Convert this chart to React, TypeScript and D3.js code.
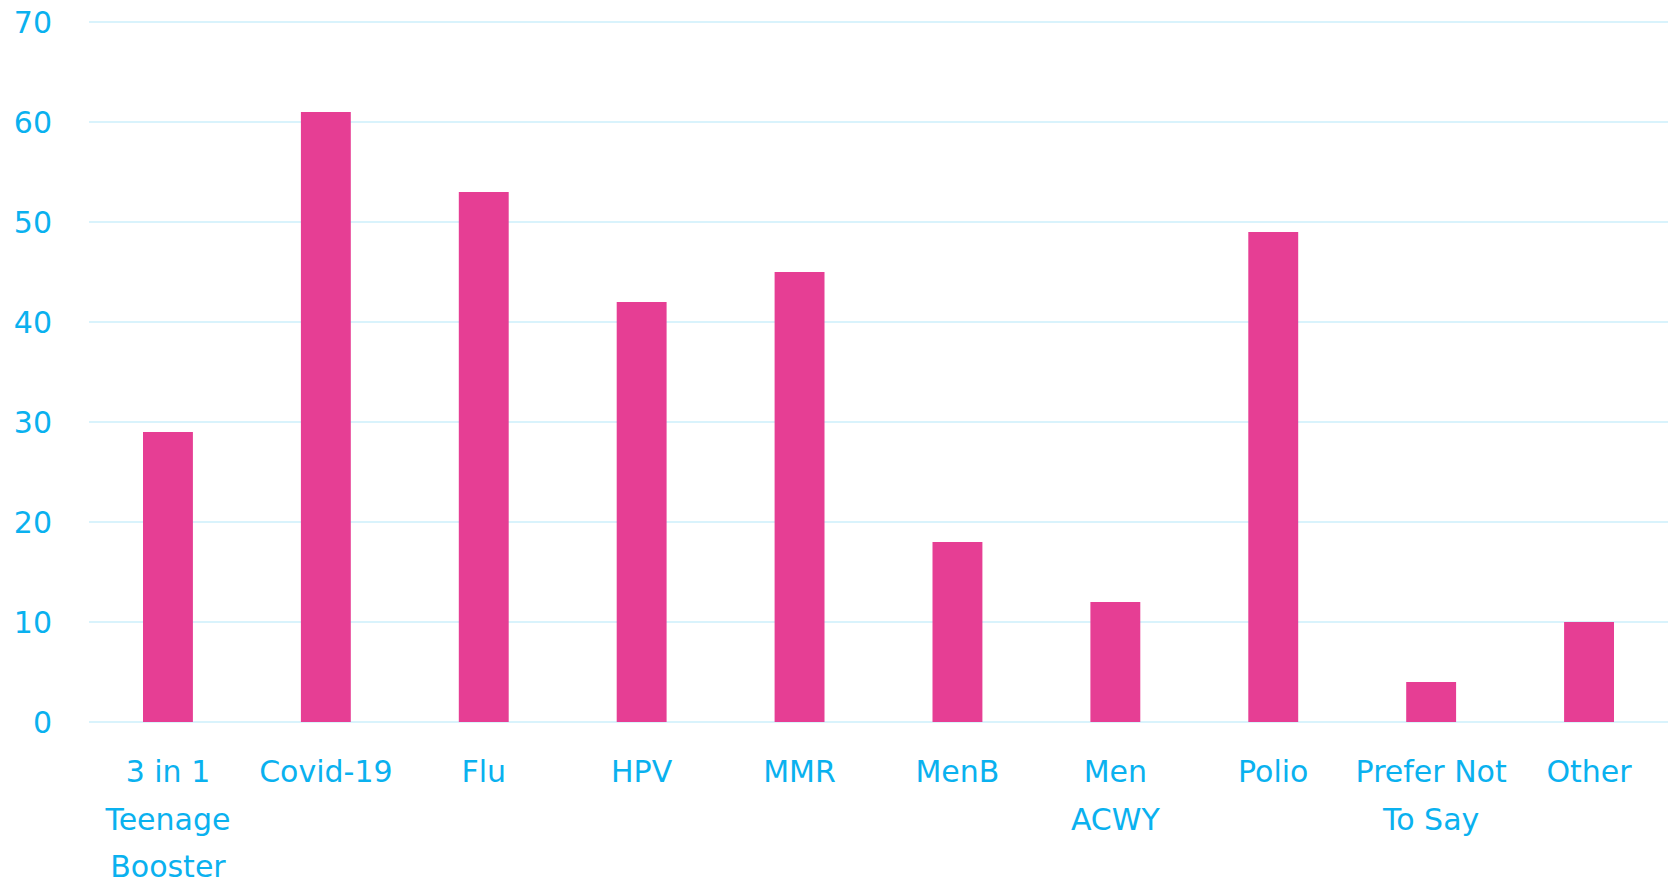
import React from "react";
import * as d3 from "d3";

const categories = [
  "3 in 1\nTeenage\nBooster",
  "Covid-19",
  "Flu",
  "HPV",
  "MMR",
  "MenB",
  "Men\nACWY",
  "Polio",
  "Prefer Not\nTo Say",
  "Other",
];
const values = [29, 61, 53, 42, 45, 18, 12, 49, 4, 10];
const yTicks = [0, 10, 20, 30, 40, 50, 60, 70];

const W = 1671;
const H = 883;
const left = 89;
const right = 1668;
const top = 22;
const bottom = 722;
const textColor = "#0AB1EF";
const barColor = "#E63E94";
const gridColor = "#CDEFFB";
const font = "'DejaVu Sans', sans-serif";

export default function App() {
  const x = d3
    .scaleBand<number>()
    .domain(d3.range(categories.length))
    .range([left, right])
    .paddingInner(0.684)
    .paddingOuter(0.342);
  const y = d3.scaleLinear().domain([0, 70]).range([bottom, top]);

  return (
    <svg
      width={W}
      height={H}
      style={{ position: "absolute", left: 0, top: 0, background: "#fff" }}
    >
      {yTicks.map((t) => (
        <g key={t}>
          <line
            x1={left}
            x2={right}
            y1={y(t)}
            y2={y(t)}
            stroke={gridColor}
            strokeWidth={1.5}
          />
          <text
            x={52}
            y={y(t)}
            dy="0.36em"
            textAnchor="end"
            fontFamily={font}
            fontSize={30}
            fill={textColor}
          >
            {t}
          </text>
        </g>
      ))}
      {values.map((v, i) => (
        <rect
          key={i}
          x={x(i)}
          y={y(v)}
          width={x.bandwidth()}
          height={y(0) - y(v)}
          fill={barColor}
        />
      ))}
      {categories.map((c, i) => (
        <text
          key={i}
          x={(x(i) as number) + x.bandwidth() / 2}
          y={783}
          textAnchor="middle"
          fontFamily={font}
          fontSize={30}
          fill={textColor}
        >
          {c.split("\n").map((line, j) => (
            <tspan key={j} x={(x(i) as number) + x.bandwidth() / 2} y={782 + j * 47.5}>
              {line}
            </tspan>
          ))}
        </text>
      ))}
    </svg>
  );
}
